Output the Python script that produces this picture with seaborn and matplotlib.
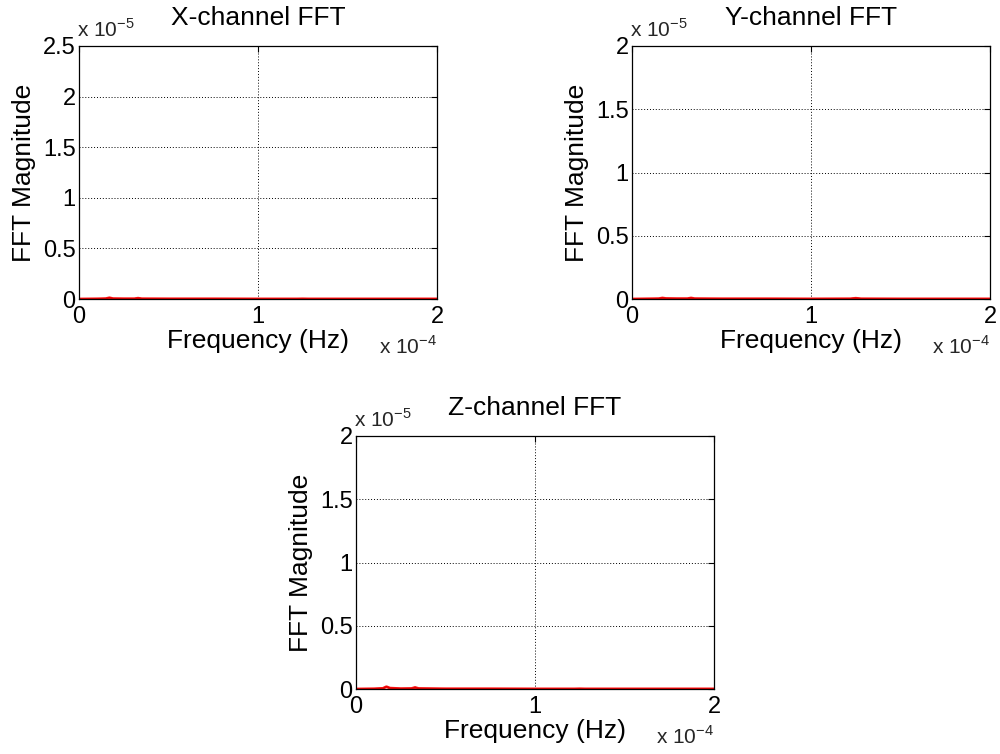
import numpy as np
import pandas as pd
import matplotlib
matplotlib.use("Agg")
import matplotlib.pyplot as plt
from matplotlib.ticker import FuncFormatter, MultipleLocator
import seaborn as sns

# ---- data (Hz, magnitude) ----
freq_hz = [0.0, 0.1e-4, 0.15e-4, 0.17e-4, 0.19e-4, 0.25e-4, 0.31e-4, 0.33e-4, 0.35e-4,
           0.5e-4, 0.75e-4, 1.0e-4, 1.22e-4, 1.25e-4, 1.28e-4, 1.5e-4, 1.75e-4, 2.0e-4]
x_mag = [0.0, 0.002e-5, 0.004e-5, 0.012e-5, 0.004e-5, 0.003e-5, 0.003e-5, 0.008e-5, 0.003e-5,
         0.002e-5, 0.002e-5, 0.001e-5, 0.001e-5, 0.002e-5, 0.001e-5, 0.001e-5, 0.001e-5, 0.001e-5]
y_mag = [0.0, 0.002e-5, 0.003e-5, 0.008e-5, 0.004e-5, 0.003e-5, 0.003e-5, 0.008e-5, 0.003e-5,
         0.002e-5, 0.002e-5, 0.001e-5, 0.002e-5, 0.006e-5, 0.002e-5, 0.001e-5, 0.001e-5, 0.001e-5]
z_mag = [0.0, 0.002e-5, 0.005e-5, 0.018e-5, 0.007e-5, 0.003e-5, 0.004e-5, 0.012e-5, 0.004e-5,
         0.002e-5, 0.002e-5, 0.001e-5, 0.001e-5, 0.002e-5, 0.001e-5, 0.001e-5, 0.001e-5, 0.001e-5]

titles = ["X-channel FFT", "Y-channel FFT", "Z-channel FFT"]
ylims = [2.5e-5, 2.0e-5, 2.0e-5]
xlabel = "Frequency (Hz)"
ylabel = "FFT Magnitude"

sns.set_style("white")
plt.rcParams['font.family'] = ['Liberation Sans', 'DejaVu Sans']
plt.rcParams['mathtext.fontset'] = 'custom'
plt.rcParams['mathtext.rm'] = 'Liberation Sans'

fig = plt.figure(figsize=(10, 7.54), dpi=100)
W, H = 1000, 754
boxes = [(79, 46, 437, 299), (632, 46, 990, 299), (356, 436, 714, 689)]

for mag, title, ylim, (l, t, r, b) in zip([x_mag, y_mag, z_mag], titles, ylims, boxes):
    ax = fig.add_axes([l / W, 1 - b / H, (r - l) / W, (b - t) / H])
    df = pd.DataFrame({"f": freq_hz, "m": mag})
    sns.lineplot(data=df, x="f", y="m", ax=ax, color="black", lw=1.0)
    sns.lineplot(data=df, x="f", y="m", ax=ax, color="#ff0000", lw=2.0, alpha=0.9)
    ax.set_xlim(0, 2e-4)
    ax.set_ylim(0, ylim)
    ax.xaxis.set_major_locator(MultipleLocator(1e-4))
    ax.yaxis.set_major_locator(MultipleLocator(0.5e-5))
    ax.xaxis.set_major_formatter(FuncFormatter(lambda v, p: f"{round(v / 1e-4, 6):g}"))
    ax.yaxis.set_major_formatter(FuncFormatter(lambda v, p: f"{round(v / 1e-5, 6):g}"))
    ax.tick_params(direction="in", length=4, width=0.8, color="black", labelsize=17,
                   top=True, right=True, pad=2.5, colors="black")
    ax.tick_params(axis="x", pad=5)
    ax.grid(True, color="black", linestyle=(0, (1, 2)), linewidth=0.7)
    for s in ax.spines.values():
        s.set_color("black")
        s.set_linewidth(0.9)
    ax.set_xlabel(xlabel, fontsize=19, labelpad=1, color="black")
    ax.set_ylabel(ylabel, fontsize=19, labelpad=5, color="black")
    ax.set_title(title, fontsize=19, pad=15, color="black")
    ax.text(-0.005, 1.02, r"x 10$^{-5}$", transform=ax.transAxes, fontsize=15,
            ha="left", va="bottom")
    ax.text(1.0, -0.145, r"x 10$^{-4}$", transform=ax.transAxes, fontsize=15,
            ha="right", va="top")

fig.savefig("out.png", dpi=100)
